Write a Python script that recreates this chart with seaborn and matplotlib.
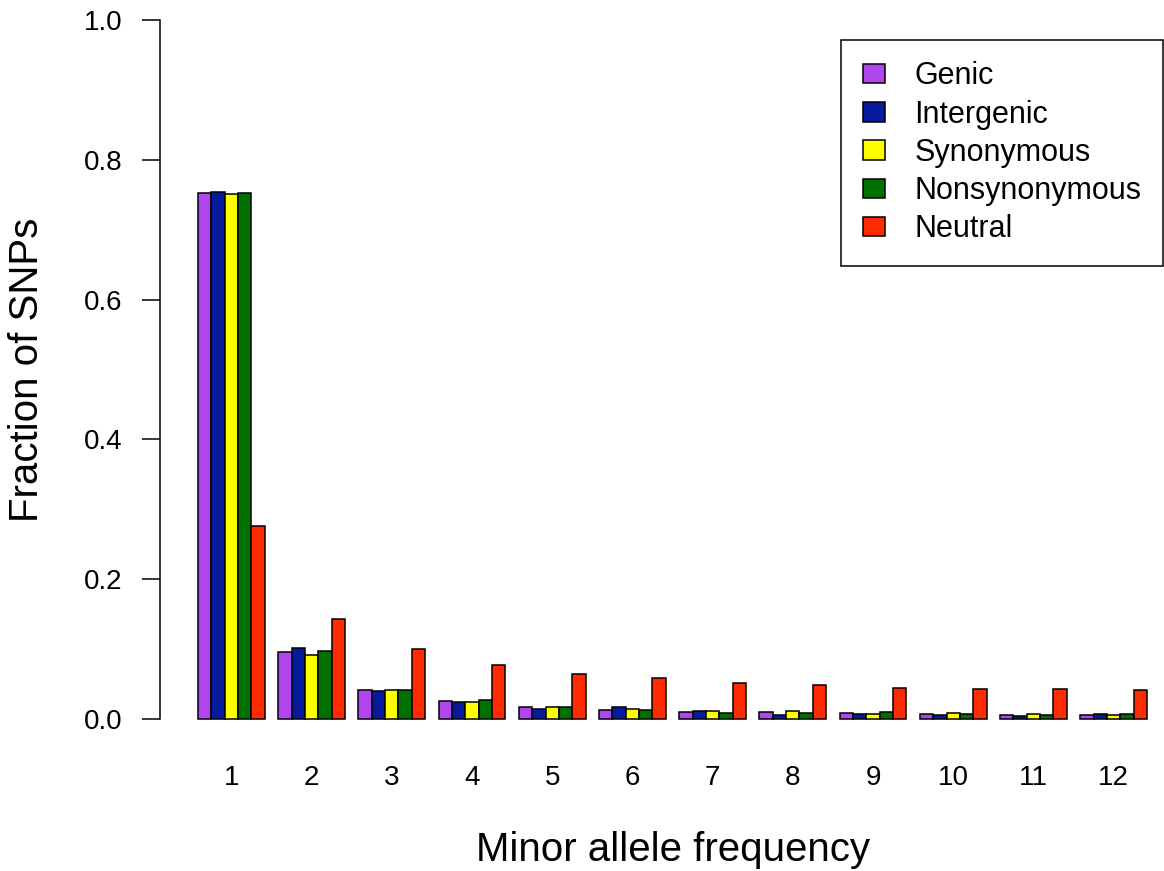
import numpy as np
import pandas as pd
import matplotlib
matplotlib.use("Agg")
import matplotlib.pyplot as plt
import seaborn as sns

sns.set_theme(style="white")
plt.rcParams['font.family'] = ['Liberation Sans', 'DejaVu Sans']

categories = [str(i) for i in range(1, 13)]
series = ["Genic", "Intergenic", "Synonymous", "Nonsynonymous", "Neutral"]
genic = [0.752, 0.096, 0.042, 0.026, 0.017, 0.013, 0.0096, 0.0096, 0.009, 0.0076, 0.0055, 0.006]
intergenic = [0.754, 0.101, 0.040, 0.024, 0.015, 0.017, 0.012, 0.0057, 0.0076, 0.0062, 0.0045, 0.0076]
synonymous = [0.751, 0.092, 0.041, 0.025, 0.017, 0.014, 0.012, 0.012, 0.0076, 0.0086, 0.0067, 0.006]
nonsynonymous = [0.753, 0.097, 0.041, 0.027, 0.017, 0.013, 0.0081, 0.008, 0.0095, 0.0076, 0.0055, 0.0071]
neutral = [0.276, 0.143, 0.0997, 0.078, 0.065, 0.058, 0.052, 0.0486, 0.045, 0.043, 0.0425, 0.0415]
colors = ["#B045EE", "#051A9C", "#FFFF00", "#007000", "#FF2A00"]

values = [genic, intergenic, synonymous, nonsynonymous, neutral]
rows = []
for s, vals in zip(series, values):
    for c, v in zip(categories, vals):
        rows.append({"maf": c, "type": s, "frac": v})
df = pd.DataFrame(rows)

W, H = 1164, 871
fig = plt.figure(figsize=(W / 100, H / 100), dpi=100)
# plot region in pixels: x 160..1185, y -8..747
ax = fig.add_axes([160 / W, (H - 747) / H, 1025 / W, 755 / H])

sns.barplot(data=df, x="maf", y="frac", hue="type", order=categories,
            hue_order=series, palette=dict(zip(series, colors)),
            width=5 / 6, gap=0, saturation=1, edgecolor="black",
            linewidth=1.1, ax=ax, legend=True)

ax.set_xlim(-0.89, 11.89)
ax.set_ylim(-0.04, 1.04)
for side in ["top", "right", "bottom"]:
    ax.spines[side].set_visible(False)
ax.spines["left"].set_bounds(0, 1)
ax.spines["left"].set_color("black")
ax.spines["left"].set_linewidth(1.1)

ax.set_yticks(np.arange(0, 1.01, 0.2))
ax.set_yticklabels([f"{v:.1f}" for v in np.arange(0, 1.01, 0.2)])
ax.tick_params(axis="y", direction="out", length=13, width=1.1, color="black",
               pad=14, labelsize=20, labelcolor="black", left=True)
ax.tick_params(axis="x", length=0, pad=13, labelsize=20, labelcolor="black")

ax.set_xlabel("Minor allele frequency", fontsize=29, color="black")
ax.xaxis.set_label_coords(0.5, (747 - 850) / 755)
ax.xaxis.label.set_va("center")
ax.set_ylabel("Fraction of SNPs", fontsize=29, color="black")
ax.yaxis.set_label_coords((27 - 160) / 1025, 0.5)
ax.yaxis.label.set_va("center")

handles, labels = ax.get_legend_handles_labels()
leg = ax.legend(handles, labels, loc="upper right",
                bbox_to_anchor=(1163 / W, 1 - 40 / H), bbox_transform=fig.transFigure,
                fontsize=22, frameon=True, fancybox=False, framealpha=1,
                edgecolor="black", handlelength=0.72, handleheight=0.6,
                handletextpad=0.98, labelspacing=0.27, borderpad=0.7,
                borderaxespad=0)
leg.get_frame().set_linewidth(1.1)
for t in leg.get_texts():
    t.set_color("black")

fig.savefig("out.png", dpi=100, facecolor="white")
